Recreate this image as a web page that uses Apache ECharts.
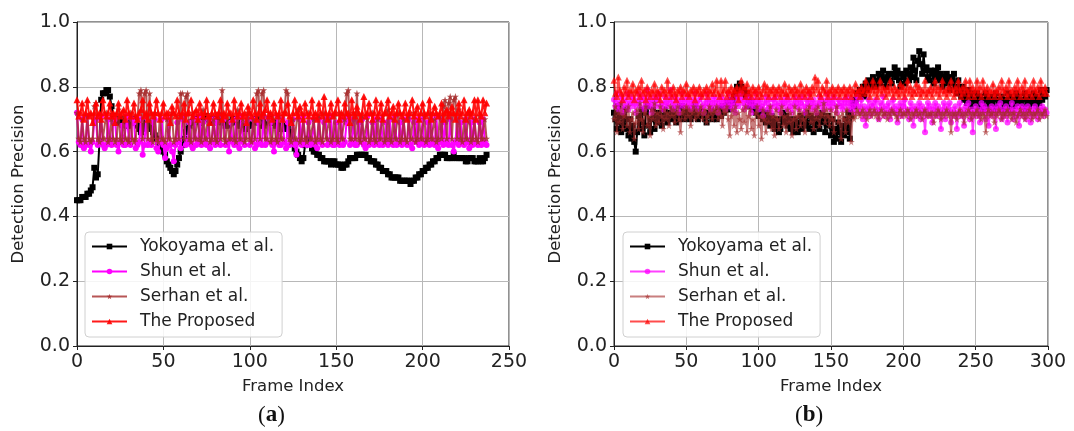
<!DOCTYPE html>
<html>
<head>
<meta charset="utf-8">
<script src="https://cdn.jsdelivr.net/npm/echarts@6/dist/echarts.min.js"></script>
<style>
  html, body { margin: 0; padding: 0; background: #fff; }
  #chart { width: 1074px; height: 431px; }
</style>
</head>
<body>
<div id="chart"></div>
<script>
// ---- Panel (a): frames 0..237 ----
const yokoyamaA = [
  0.45,0.45,0.45,0.46,0.46, 0.46,0.47,0.47,0.48,0.49,
  0.55,0.52,0.53,0.63,0.76, 0.78,0.78,0.79,0.79,0.77,
  0.74,0.71,0.70,0.70,0.69, 0.69,0.70,0.70,0.69,0.68,
  0.68,0.69,0.70,0.70,0.69, 0.68,0.67,0.66,0.67,0.68,
  0.69,0.69,0.68,0.67,0.66, 0.65,0.64,0.63,0.62,0.61,
  0.60,0.59,0.57,0.56,0.55, 0.54,0.53,0.54,0.56,0.58,
  0.60,0.62,0.64,0.66,0.67, 0.68,0.69,0.69,0.70,0.70,
  0.70,0.69,0.69,0.70,0.70, 0.71,0.70,0.70,0.69,0.69,
  0.70,0.70,0.71,0.70,0.69, 0.69,0.68,0.68,0.69,0.69,
  0.70,0.70,0.69,0.69,0.68, 0.68,0.68,0.67,0.67,0.68,
  0.68,0.69,0.69,0.70,0.70, 0.69,0.69,0.68,0.68,0.69,
  0.69,0.70,0.70,0.69,0.69, 0.68,0.68,0.67,0.67,0.68,
  0.68,0.67,0.67,0.66,0.65, 0.63,0.61,0.60,0.59,0.58,
  0.57,0.58,0.62,0.63,0.64, 0.63,0.61,0.60,0.60,0.59,
  0.59,0.58,0.58,0.57,0.57, 0.57,0.57,0.56,0.57,0.57,
  0.56,0.56,0.56,0.55,0.55, 0.56,0.56,0.57,0.58,0.58,
  0.58,0.58,0.59,0.59,0.59, 0.59,0.59,0.59,0.58,0.58,
  0.57,0.57,0.57,0.56,0.56, 0.55,0.55,0.54,0.54,0.54,
  0.53,0.53,0.52,0.52,0.52, 0.52,0.52,0.51,0.51,0.51,
  0.51,0.51,0.51,0.50,0.51, 0.51,0.52,0.52,0.53,0.53,
  0.54,0.54,0.55,0.55,0.56, 0.56,0.57,0.57,0.58,0.58,
  0.59,0.59,0.59,0.59,0.58, 0.58,0.58,0.58,0.59,0.58,
  0.58,0.58,0.58,0.58,0.58, 0.57,0.57,0.58,0.58,0.58,
  0.57,0.57,0.57,0.58,0.57, 0.57,0.58,0.59
];
const shunA = [
  0.72,0.63,0.62,0.70,0.61,0.62,0.71,0.62,0.60,0.63,
  0.69,0.70,0.62,0.63,0.71,0.62,0.61,0.62,0.70,0.63,
  0.62,0.69,0.70,0.62,0.60,0.63,0.68,0.62,0.62,0.71,
  0.63,0.62,0.70,0.69,0.61,0.62,0.63,0.70,0.59,0.62,
  0.71,0.62,0.63,0.62,0.69,0.70,0.61,0.60,0.63,0.70,
  0.62,0.58,0.61,0.70,0.62,0.60,0.57,0.62,0.69,0.63,
  0.61,0.70,0.71,0.62,0.63,0.69,0.62,0.61,0.70,0.62,
  0.63,0.71,0.62,0.69,0.63,0.62,0.70,0.61,0.63,0.70,
  0.62,0.69,0.63,0.62,0.71,0.70,0.62,0.63,0.60,0.69,
  0.63,0.62,0.70,0.62,0.61,0.71,0.63,0.62,0.69,0.70,
  0.62,0.63,0.70,0.61,0.62,0.69,0.63,0.62,0.71,0.62,
  0.63,0.70,0.69,0.62,0.60,0.63,0.71,0.62,0.62,0.70,
  0.63,0.61,0.69,0.62,0.63,0.70,0.62,0.59,0.63,0.70,
  0.62,0.71,0.63,0.62,0.69,0.62,0.63,0.70,0.62,0.61,
  0.70,0.63,0.62,0.69,0.70,0.62,0.63,0.71,0.62,0.62,
  0.69,0.63,0.62,0.70,0.62,0.63,0.69,0.71,0.62,0.63,
  0.70,0.62,0.62,0.69,0.63,0.70,0.62,0.61,0.71,0.62,
  0.63,0.69,0.62,0.70,0.63,0.62,0.70,0.62,0.63,0.69,
  0.62,0.70,0.63,0.62,0.71,0.62,0.63,0.69,0.62,0.70,
  0.63,0.62,0.70,0.62,0.61,0.69,0.63,0.70,0.62,0.63,
  0.70,0.62,0.63,0.69,0.62,0.70,0.63,0.62,0.71,0.61,
  0.63,0.70,0.62,0.69,0.63,0.62,0.70,0.62,0.60,0.63,
  0.70,0.62,0.69,0.63,0.62,0.70,0.63,0.61,0.69,0.62,
  0.70,0.63,0.62,0.69,0.62,0.70,0.63,0.62
];
const serhanA = [
  0.72,0.64,0.63,0.70,0.64,0.63,0.71,0.64,0.63,0.64,
  0.74,0.75,0.64,0.63,0.70,0.64,0.64,0.72,0.63,0.64,
  0.70,0.64,0.63,0.64,0.73,0.64,0.63,0.71,0.64,0.64,
  0.63,0.72,0.64,0.63,0.64,0.70,0.78,0.79,0.64,0.78,
  0.79,0.64,0.78,0.64,0.63,0.72,0.64,0.63,0.71,0.64,
  0.64,0.63,0.70,0.64,0.64,0.72,0.63,0.64,0.71,0.64,
  0.78,0.78,0.64,0.77,0.78,0.64,0.63,0.72,0.64,0.64,
  0.70,0.64,0.63,0.73,0.64,0.64,0.71,0.63,0.64,0.70,
  0.64,0.63,0.72,0.64,0.79,0.64,0.63,0.71,0.64,0.64,
  0.70,0.64,0.63,0.73,0.64,0.64,0.70,0.63,0.64,0.72,
  0.64,0.63,0.70,0.64,0.78,0.79,0.64,0.78,0.79,0.64,
  0.64,0.72,0.63,0.64,0.70,0.64,0.63,0.71,0.64,0.64,
  0.72,0.79,0.78,0.64,0.63,0.70,0.64,0.64,0.73,0.63,
  0.64,0.70,0.64,0.63,0.72,0.64,0.64,0.70,0.63,0.64,
  0.71,0.64,0.63,0.72,0.64,0.64,0.70,0.63,0.64,0.71,
  0.64,0.63,0.72,0.64,0.64,0.70,0.78,0.79,0.64,0.64,
  0.72,0.64,0.78,0.64,0.63,0.71,0.64,0.64,0.70,0.63,
  0.64,0.72,0.64,0.63,0.70,0.64,0.64,0.71,0.63,0.64,
  0.73,0.64,0.63,0.70,0.64,0.64,0.72,0.63,0.64,0.70,
  0.64,0.63,0.71,0.64,0.64,0.72,0.63,0.64,0.70,0.64,
  0.64,0.71,0.63,0.64,0.72,0.64,0.64,0.70,0.63,0.64,
  0.71,0.64,0.74,0.76,0.64,0.75,0.77,0.64,0.76,0.77,
  0.64,0.73,0.64,0.63,0.70,0.64,0.64,0.72,0.63,0.64,
  0.70,0.64,0.63,0.71,0.64,0.64,0.70,0.64
];
const proposedA = [
  0.76,0.71,0.72,0.75,0.70,0.72,0.76,0.71,0.72,0.69,
  0.72,0.75,0.71,0.72,0.70,0.76,0.72,0.71,0.72,0.75,
  0.71,0.72,0.69,0.72,0.75,0.71,0.72,0.73,0.70,0.76,
  0.72,0.71,0.72,0.75,0.71,0.70,0.72,0.73,0.76,0.71,
  0.72,0.70,0.75,0.72,0.71,0.72,0.76,0.72,0.70,0.72,
  0.75,0.71,0.72,0.72,0.69,0.74,0.72,0.71,0.76,0.72,
  0.71,0.72,0.75,0.70,0.72,0.72,0.76,0.71,0.72,0.73,
  0.70,0.75,0.72,0.71,0.72,0.76,0.71,0.69,0.72,0.75,
  0.72,0.71,0.72,0.76,0.70,0.72,0.71,0.75,0.72,0.72,
  0.70,0.76,0.72,0.71,0.72,0.75,0.71,0.72,0.69,0.74,
  0.72,0.71,0.76,0.72,0.70,0.72,0.75,0.71,0.72,0.73,
  0.76,0.71,0.72,0.70,0.75,0.72,0.71,0.72,0.76,0.70,
  0.72,0.72,0.75,0.71,0.69,0.72,0.76,0.72,0.71,0.74,
  0.72,0.70,0.75,0.72,0.71,0.72,0.76,0.71,0.72,0.70,
  0.75,0.72,0.71,0.77,0.72,0.70,0.72,0.75,0.71,0.72,
  0.72,0.76,0.70,0.72,0.71,0.75,0.72,0.72,0.69,0.76,
  0.72,0.71,0.74,0.72,0.70,0.72,0.77,0.71,0.72,0.75,
  0.72,0.70,0.72,0.76,0.71,0.72,0.75,0.70,0.72,0.72,
  0.76,0.71,0.72,0.74,0.70,0.72,0.75,0.72,0.71,0.72,
  0.75,0.70,0.72,0.72,0.76,0.71,0.72,0.74,0.70,0.72,
  0.75,0.72,0.71,0.72,0.76,0.70,0.72,0.74,0.72,0.71,
  0.72,0.75,0.70,0.72,0.73,0.71,0.72,0.74,0.72,0.70,
  0.72,0.75,0.71,0.72,0.76,0.70,0.72,0.73,0.71,0.72,
  0.76,0.70,0.76,0.72,0.71,0.76,0.72,0.75
];

// ---- Panel (b): frames 0..299 ----
const yokoyamaB = [
  0.72,0.70,0.67,0.74,0.69,0.66,0.71,0.68,0.73,0.67,
  0.65,0.70,0.64,0.68,0.63,0.60,0.66,0.71,0.67,0.73,
  0.69,0.65,0.72,0.74,0.68,0.66,0.70,0.73,0.67,0.71,
  0.69,0.72,0.70,0.68,0.71,0.73,0.70,0.69,0.72,0.71,
  0.70,0.73,0.71,0.69,0.72,0.70,0.71,0.74,0.72,0.70,
  0.71,0.73,0.72,0.70,0.71,0.72,0.74,0.71,0.70,0.72,
  0.73,0.71,0.72,0.70,0.69,0.72,0.71,0.73,0.70,0.72,
  0.71,0.70,0.73,0.72,0.71,0.74,0.72,0.73,0.75,0.73,
  0.74,0.76,0.75,0.77,0.78,0.80,0.79,0.81,0.80,0.78,
  0.79,0.77,0.78,0.76,0.74,0.75,0.73,0.74,0.72,0.73,
  0.71,0.73,0.72,0.70,0.71,0.69,0.72,0.70,0.68,0.71,
  0.69,0.67,0.70,0.68,0.66,0.67,0.70,0.72,0.69,0.71,
  0.68,0.70,0.67,0.69,0.66,0.70,0.68,0.66,0.69,0.71,
  0.67,0.70,0.68,0.72,0.69,0.67,0.71,0.69,0.66,0.70,
  0.68,0.71,0.67,0.69,0.72,0.70,0.66,0.69,0.71,0.68,
  0.65,0.70,0.63,0.67,0.64,0.69,0.66,0.63,0.68,0.65,
  0.70,0.66,0.72,0.64,0.71,0.75,0.74,0.76,0.78,0.77,
  0.79,0.78,0.80,0.77,0.81,0.79,0.82,0.80,0.81,0.83,
  0.81,0.80,0.82,0.84,0.81,0.83,0.85,0.82,0.80,0.83,
  0.84,0.82,0.81,0.84,0.86,0.83,0.85,0.82,0.80,0.84,
  0.83,0.81,0.85,0.84,0.82,0.86,0.83,0.89,0.85,0.82,
  0.88,0.91,0.87,0.84,0.90,0.85,0.86,0.83,0.82,0.85,
  0.84,0.81,0.85,0.83,0.86,0.82,0.84,0.80,0.83,0.81,
  0.84,0.82,0.79,0.83,0.81,0.84,0.80,0.78,0.82,0.79,
  0.77,0.80,0.76,0.78,0.75,0.79,0.77,0.74,0.78,0.76,
  0.75,0.78,0.74,0.77,0.75,0.73,0.76,0.78,0.74,0.76,
  0.77,0.75,0.73,0.76,0.78,0.74,0.76,0.75,0.77,0.73,
  0.76,0.74,0.78,0.75,0.73,0.77,0.76,0.74,0.78,0.75,
  0.77,0.75,0.74,0.76,0.78,0.73,0.76,0.74,0.77,0.75,
  0.78,0.76,0.74,0.77,0.75,0.79,0.76,0.78,0.77,0.79
];
const shunB = [
  0.76,0.74,0.78,0.73,0.75,0.77,0.72,0.76,0.74,0.78,
  0.73,0.75,0.77,0.74,0.76,0.72,0.75,0.78,0.74,0.76,
  0.77,0.73,0.75,0.79,0.74,0.76,0.72,0.75,0.77,0.74,
  0.76,0.78,0.74,0.75,0.73,0.77,0.75,0.74,0.76,0.79,
  0.75,0.73,0.77,0.74,0.76,0.72,0.75,0.78,0.74,0.76,
  0.74,0.77,0.75,0.73,0.76,0.74,0.78,0.75,0.73,0.76,
  0.77,0.74,0.72,0.75,0.78,0.74,0.76,0.73,0.75,0.77,
  0.74,0.76,0.72,0.75,0.77,0.74,0.76,0.73,0.75,0.78,
  0.74,0.76,0.73,0.75,0.72,0.77,0.74,0.76,0.78,0.75,
  0.73,0.76,0.74,0.77,0.75,0.72,0.76,0.74,0.78,0.75,
  0.73,0.76,0.74,0.71,0.75,0.77,0.73,0.76,0.74,0.72,
  0.76,0.74,0.77,0.73,0.75,0.72,0.76,0.74,0.75,0.77,
  0.73,0.76,0.74,0.72,0.75,0.77,0.74,0.76,0.73,0.75,
  0.77,0.74,0.72,0.76,0.74,0.78,0.75,0.73,0.76,0.74,
  0.72,0.75,0.77,0.74,0.76,0.73,0.75,0.78,0.74,0.76,
  0.73,0.75,0.77,0.74,0.72,0.76,0.74,0.75,0.73,0.76,
  0.74,0.77,0.75,0.73,0.76,0.74,0.72,0.75,0.77,0.74,
  0.72,0.76,0.70,0.74,0.68,0.73,0.76,0.71,0.74,0.75,
  0.72,0.76,0.73,0.70,0.75,0.73,0.77,0.71,0.74,0.72,
  0.75,0.70,0.73,0.76,0.72,0.74,0.69,0.73,0.75,0.71,
  0.74,0.76,0.72,0.73,0.70,0.75,0.73,0.68,0.74,0.71,
  0.73,0.75,0.70,0.74,0.72,0.66,0.73,0.75,0.71,0.74,
  0.69,0.73,0.75,0.71,0.74,0.72,0.67,0.73,0.75,0.70,
  0.74,0.72,0.75,0.69,0.73,0.71,0.74,0.67,0.72,0.75,
  0.71,0.73,0.68,0.74,0.72,0.75,0.70,0.73,0.66,0.72,
  0.74,0.71,0.73,0.69,0.75,0.72,0.74,0.70,0.73,0.68,
  0.72,0.74,0.71,0.73,0.67,0.74,0.72,0.75,0.70,0.73,
  0.71,0.74,0.69,0.73,0.72,0.75,0.70,0.73,0.71,0.74,
  0.68,0.72,0.74,0.71,0.73,0.70,0.74,0.72,0.69,0.73,
  0.71,0.74,0.72,0.70,0.73,0.72,0.74,0.71,0.73,0.72
];
const serhanB = [
  0.70,0.74,0.66,0.72,0.69,0.75,0.67,0.71,0.73,0.68,
  0.74,0.66,0.70,0.72,0.64,0.69,0.73,0.67,0.75,0.70,
  0.66,0.72,0.74,0.68,0.71,0.65,0.73,0.70,0.75,0.68,
  0.72,0.69,0.74,0.71,0.67,0.73,0.70,0.72,0.68,0.74,
  0.71,0.73,0.69,0.72,0.74,0.70,0.66,0.72,0.73,0.70,
  0.74,0.71,0.73,0.68,0.72,0.74,0.70,0.73,0.71,0.72,
  0.74,0.70,0.72,0.73,0.69,0.71,0.74,0.72,0.70,0.73,
  0.72,0.74,0.70,0.73,0.71,0.68,0.73,0.72,0.74,0.70,
  0.65,0.71,0.73,0.68,0.74,0.66,0.72,0.70,0.67,0.73,
  0.69,0.74,0.66,0.71,0.73,0.67,0.70,0.65,0.72,0.74,
  0.68,0.71,0.64,0.73,0.70,0.66,0.72,0.69,0.74,0.67,
  0.71,0.65,0.73,0.70,0.67,0.72,0.74,0.68,0.71,0.66,
  0.73,0.69,0.72,0.65,0.70,0.74,0.67,0.71,0.73,0.68,
  0.72,0.70,0.66,0.73,0.71,0.74,0.69,0.72,0.67,0.73,
  0.70,0.74,0.68,0.72,0.71,0.75,0.69,0.73,0.71,0.68,
  0.73,0.70,0.66,0.72,0.74,0.69,0.71,0.64,0.72,0.70,
  0.66,0.73,0.69,0.71,0.63,0.72,0.70,0.71,0.73,0.72,
  0.71,0.72,0.73,0.71,0.72,0.70,0.72,0.73,0.71,0.72,
  0.73,0.71,0.72,0.70,0.72,0.73,0.71,0.72,0.72,0.70,
  0.72,0.71,0.73,0.72,0.72,0.71,0.70,0.72,0.73,0.71,
  0.72,0.72,0.71,0.73,0.72,0.70,0.72,0.71,0.72,0.73,
  0.71,0.72,0.72,0.70,0.72,0.73,0.71,0.72,0.71,0.72,
  0.72,0.69,0.72,0.71,0.73,0.72,0.70,0.72,0.71,0.72,
  0.73,0.71,0.72,0.66,0.72,0.71,0.72,0.70,0.72,0.73,
  0.71,0.72,0.69,0.72,0.71,0.73,0.72,0.70,0.72,0.71,
  0.72,0.73,0.71,0.72,0.70,0.72,0.71,0.66,0.72,0.73,
  0.71,0.72,0.72,0.69,0.72,0.71,0.73,0.72,0.70,0.72,
  0.71,0.72,0.73,0.71,0.72,0.70,0.72,0.72,0.69,0.71,
  0.72,0.73,0.71,0.72,0.70,0.72,0.71,0.73,0.72,0.70,
  0.72,0.71,0.72,0.73,0.70,0.72,0.71,0.72,0.73,0.71
];
const proposedB = [
  0.82,0.78,0.77,0.83,0.79,0.78,0.76,0.80,0.78,0.82,
  0.77,0.79,0.78,0.81,0.76,0.79,0.78,0.80,0.77,0.82,
  0.78,0.79,0.76,0.80,0.78,0.77,0.79,0.78,0.81,0.77,
  0.79,0.78,0.76,0.80,0.78,0.79,0.77,0.82,0.78,0.79,
  0.77,0.80,0.78,0.76,0.79,0.78,0.80,0.77,0.79,0.78,
  0.81,0.78,0.77,0.79,0.78,0.80,0.76,0.79,0.78,0.80,
  0.78,0.77,0.79,0.78,0.80,0.77,0.79,0.78,0.81,0.78,
  0.79,0.82,0.78,0.77,0.82,0.78,0.79,0.82,0.77,0.79,
  0.78,0.80,0.77,0.79,0.78,0.80,0.76,0.79,0.82,0.78,
  0.80,0.77,0.81,0.78,0.79,0.77,0.80,0.78,0.79,0.77,
  0.80,0.78,0.77,0.79,0.81,0.78,0.80,0.77,0.79,0.78,
  0.80,0.77,0.79,0.78,0.80,0.77,0.79,0.78,0.81,0.78,
  0.77,0.80,0.78,0.79,0.77,0.80,0.78,0.79,0.77,0.81,
  0.78,0.79,0.77,0.80,0.78,0.79,0.77,0.80,0.78,0.83,
  0.79,0.82,0.78,0.77,0.80,0.79,0.78,0.82,0.77,0.79,
  0.78,0.80,0.77,0.79,0.78,0.80,0.77,0.79,0.78,0.80,
  0.77,0.79,0.78,0.80,0.77,0.79,0.78,0.81,0.78,0.79,
  0.77,0.80,0.78,0.79,0.82,0.78,0.80,0.77,0.79,0.82,
  0.78,0.80,0.77,0.79,0.82,0.78,0.80,0.79,0.77,0.80,
  0.78,0.82,0.79,0.77,0.80,0.78,0.79,0.77,0.81,0.78,
  0.80,0.77,0.79,0.82,0.78,0.80,0.77,0.79,0.78,0.81,
  0.78,0.80,0.77,0.79,0.78,0.82,0.77,0.79,0.78,0.80,
  0.77,0.79,0.82,0.78,0.80,0.77,0.79,0.82,0.78,0.79,
  0.77,0.80,0.78,0.82,0.79,0.77,0.80,0.78,0.82,0.79,
  0.77,0.80,0.78,0.82,0.79,0.77,0.82,0.78,0.80,0.77,
  0.79,0.82,0.78,0.80,0.77,0.82,0.79,0.78,0.80,0.77,
  0.79,0.78,0.81,0.77,0.79,0.78,0.80,0.77,0.82,0.79,
  0.78,0.80,0.77,0.82,0.78,0.79,0.77,0.80,0.78,0.82,
  0.79,0.77,0.80,0.78,0.82,0.77,0.79,0.78,0.80,0.77,
  0.82,0.79,0.78,0.80,0.77,0.82,0.79,0.78,0.80,0.78
];

const seriesNames = ['Yokoyama et al.', 'Shun et al.', 'Serhan et al.', 'The Proposed'];
const yTicks = [0, 0.2, 0.4, 0.6, 0.8, 1.0];
const xMaxA = 250;
const xMaxB = 300;

const STAR = 'path://M0,-10L2.35,-3.24L9.51,-3.09L3.8,1.24L5.88,8.09L0,4L-5.88,8.09L-3.8,1.24L-9.51,-3.09L-2.35,-3.24Z';
const FONT = 'DejaVu Sans';

// Per-panel series styles (panel b is drawn with lighter, translucent colours)
const stylesA = [
  { color: '#000000', symbol: 'rect', size: 6 },
  { color: '#ff00ff', symbol: 'circle', size: 6 },
  { color: 'rgba(165,42,42,0.8)', symbol: STAR, size: 7 },
  { color: 'rgba(255,0,0,0.9)', symbol: 'triangle', size: 7 }
];
const stylesB = [
  { color: '#000000', symbol: 'rect', size: 6 },
  { color: 'rgba(255,0,255,0.75)', symbol: 'circle', size: 6 },
  { color: 'rgba(165,42,42,0.6)', symbol: STAR, size: 7 },
  { color: 'rgba(255,0,0,0.7)', symbol: 'triangle', size: 7 }
];

function makeSeries(values, idx, gridIdx, st) {
  return {
    type: 'line',
    name: seriesNames[idx],
    xAxisIndex: gridIdx,
    yAxisIndex: gridIdx,
    data: values.map((v, i) => [i, v]),
    symbol: st.symbol,
    symbolSize: st.size,
    showAllSymbol: true,
    lineStyle: { color: st.color, width: 2 },
    itemStyle: { color: st.color, borderWidth: 0 },
    emphasis: { disabled: true },
    z: 2 + idx
  };
}

function xAxis(gridIdx, max) {
  return {
    type: 'value', gridIndex: gridIdx, min: 0, max: max, interval: 50,
    name: 'Frame Index', nameLocation: 'middle', nameGap: 32,
    nameTextStyle: { fontFamily: FONT, fontSize: 16.5, color: '#222' },
    axisLine: { show: true, lineStyle: { color: '#222', width: 1 } },
    axisTick: { show: true, length: 4, lineStyle: { color: '#222' } },
    axisLabel: { fontFamily: FONT, fontSize: 19, color: '#222', margin: 7 },
    splitLine: { show: true, lineStyle: { color: '#b8b8b8', width: 1 } }
  };
}

function yAxis(gridIdx) {
  return {
    type: 'value', gridIndex: gridIdx, min: yTicks[0], max: yTicks[yTicks.length - 1], interval: 0.2,
    name: 'Detection Precision', nameLocation: 'middle', nameGap: 50,
    nameTextStyle: { fontFamily: FONT, fontSize: 16.5, color: '#222' },
    axisLine: { show: true, lineStyle: { color: '#222', width: 1 } },
    axisTick: { show: true, length: 4, lineStyle: { color: '#222' } },
    axisLabel: { fontFamily: FONT, fontSize: 19, color: '#222', margin: 7,
                 formatter: v => v.toFixed(1) },
    splitLine: { show: true, lineStyle: { color: '#b8b8b8', width: 1 } }
  };
}

function legend(left, top, styles) {
  return {
    orient: 'vertical', left: left, top: top,
    itemWidth: 35, itemHeight: 7, itemGap: 6,
    padding: [5, 8, 6, 6],
    backgroundColor: 'rgba(255,255,255,0.85)',
    borderColor: '#d0d0d0', borderWidth: 1, borderRadius: 4,
    textStyle: { fontFamily: FONT, fontSize: 17, color: '#222', padding: [0, 0, 0, 8],
                 lineHeight: 19 },
    selectedMode: false,
    data: seriesNames.map((n, i) => ({
      name: n,
      itemStyle: { color: styles[i].color },
      lineStyle: { color: styles[i].color, width: 2 }
    }))
  };
}

const chart = echarts.init(document.getElementById('chart'), null, { renderer: 'canvas' });

chart.setOption({
  animation: false,
  backgroundColor: '#ffffff',
  grid: [
    { left: 77, top: 22, width: 432, height: 324, show: true, borderColor: '#222', borderWidth: 1, backgroundColor: 'transparent' },
    { left: 614, top: 22, width: 434, height: 324, show: true, borderColor: '#222', borderWidth: 1, backgroundColor: 'transparent' }
  ],
  xAxis: [xAxis(0, xMaxA), xAxis(1, xMaxB)],
  yAxis: [yAxis(0), yAxis(1)],
  legend: [legend(85, 232, stylesA), legend(623, 232, stylesB)],
  series: [
    makeSeries(yokoyamaA, 0, 0, stylesA[0]),
    makeSeries(shunA, 1, 0, stylesA[1]),
    makeSeries(serhanA, 2, 0, stylesA[2]),
    makeSeries(proposedA, 3, 0, stylesA[3]),
    makeSeries(yokoyamaB, 0, 1, stylesB[0]),
    makeSeries(shunB, 1, 1, stylesB[1]),
    makeSeries(serhanB, 2, 1, stylesB[2]),
    makeSeries(proposedB, 3, 1, stylesB[3])
  ],
  graphic: [
    { type: 'text', left: 258, top: 404, silent: true,
      style: { text: '{p|(}{b|a}{p|)}',
        rich: { p: { fontFamily: 'Liberation Serif', fontSize: 23, fill: '#111' },
                b: { fontFamily: 'Liberation Serif', fontSize: 23, fontWeight: 'bold', fill: '#111' } } } },
    { type: 'text', left: 795, top: 404, silent: true,
      style: { text: '{p|(}{b|b}{p|)}',
        rich: { p: { fontFamily: 'Liberation Serif', fontSize: 23, fill: '#111' },
                b: { fontFamily: 'Liberation Serif', fontSize: 23, fontWeight: 'bold', fill: '#111' } } } }
  ]
});
</script>
</body>
</html>
